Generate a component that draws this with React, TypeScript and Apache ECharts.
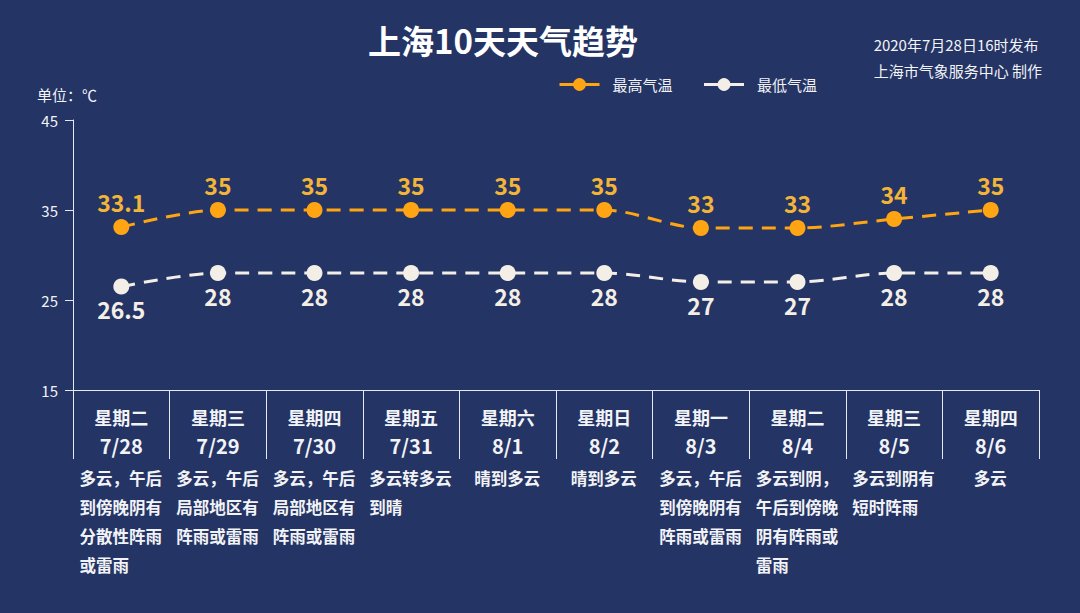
import React, { useEffect, useRef } from 'react';
import * as echarts from 'echarts';

const FONT = '"Noto Sans CJK SC", "Noto Sans", sans-serif';

const TH = {
  BG_COLOR: '#243464',
  FG_COLOR: '#f2f3f7',
  AXIS_COLOR: '#e3e8f2',
  HIGH_COLOR: '#ffa514',
  HIGH_LABEL: '#f3b437',
  LOW_COLOR: '#f4efe6',
};

const dates = ['7/28', '7/29', '7/30', '7/31', '8/1', '8/2', '8/3', '8/4', '8/5', '8/6'];
const weekdays = ['星期二', '星期三', '星期四', '星期五', '星期六', '星期日', '星期一', '星期二', '星期三', '星期四'];
const weather = [
  '多云，午后\n到傍晚阴有\n分散性阵雨\n或雷雨',
  '多云，午后\n局部地区有\n阵雨或雷雨',
  '多云，午后\n局部地区有\n阵雨或雷雨',
  '多云转多云\n到晴',
  '晴到多云',
  '晴到多云',
  '多云，午后\n到傍晚阴有\n阵雨或雷雨',
  '多云到阴，\n午后到傍晚\n阴有阵雨或\n雷雨',
  '多云到阴有\n短时阵雨',
  '多云',
];
const highTemps = [33.1, 35, 35, 35, 35, 35, 33, 33, 34, 35];
const lowTemps = [26.5, 28, 28, 28, 28, 28, 27, 27, 28, 28];
const yTicks = { min: 15, max: 45, interval: 10 };

const DESC_SIZE = 16.5;

// one rich style per line length, so lines stay left-aligned inside a centred block
const descRich: Record<string, any> = {};
for (let n = 1; n <= 6; n++) {
  descRich['d' + n] = {
    width: n * DESC_SIZE + 1,
    align: 'left',
    fontSize: DESC_SIZE,
    fontWeight: 'bold',
    lineHeight: 29,
    color: TH.FG_COLOR,
    fontFamily: FONT,
  };
}

const App = (): JSX.Element => {
  const divEL = useRef(null);

  const option: any = {
    animation: false,
    backgroundColor: TH.BG_COLOR,
    textStyle: { fontFamily: FONT },
    title: [
      {
        text: '上海10天天气趋势',
        left: 363,
        top: 18,
        textStyle: {
          color: '#ffffff',
          fontSize: 33,
          fontWeight: 'bold',
          fontFamily: FONT,
        },
      },
      {
        text: '2020年7月28日16时发布\n上海市气象服务中心 制作',
        right: 33,
        top: 26,
        textStyle: {
          color: TH.FG_COLOR,
          fontSize: 15,
          fontWeight: 'normal',
          lineHeight: 26,
          fontFamily: FONT,
        },
      },
    ],
    legend: {
      left: 553,
      top: 72,
      itemWidth: 40,
      itemHeight: 16,
      itemGap: 30,
      data: ['最高气温', '最低气温'],
      lineStyle: { type: 'solid', width: 3 },
      textStyle: {
        color: TH.FG_COLOR,
        fontSize: 15,
        fontFamily: FONT,
        padding: [0, 0, 0, 8],
      },
    },
    grid: {
      left: 73,
      right: 41,
      top: 120,
      bottom: 223,
    },
    xAxis: [
      {
        type: 'category',
        data: dates,
        boundaryGap: true,
        axisLine: { lineStyle: { color: TH.AXIS_COLOR, width: 1 } },
        axisTick: {
          show: true,
          length: 69,
          lineStyle: { color: TH.AXIS_COLOR, width: 1 },
        },
        axisLabel: {
          interval: 0,
          margin: 13,
          formatter: (value: string, idx: number) => `{w|${weekdays[idx]}}\n{d|${value}}`,
          rich: {
            w: {
              fontSize: 18,
              fontWeight: 'bold',
              lineHeight: 28,
              color: TH.FG_COLOR,
              fontFamily: FONT,
            },
            d: {
              fontSize: 20,
              fontWeight: 'bold',
              lineHeight: 28,
              color: TH.FG_COLOR,
              fontFamily: FONT,
            },
          },
        },
        splitLine: { show: false },
      },
      {
        type: 'category',
        data: dates,
        position: 'bottom',
        boundaryGap: true,
        axisLine: { show: false },
        axisTick: { show: false },
        axisLabel: {
          interval: 0,
          margin: 73,
          formatter: (value: string, idx: number) => {
            const lines = weather[idx].split('\n');
            const n = Math.max(...lines.map((l) => l.length));
            return lines.map((l) => `{d${n}|${l}}`).join('\n');
          },
          rich: descRich,
        },
        splitLine: { show: false },
      },
    ],
    yAxis: {
      type: 'value',
      min: yTicks.min,
      max: yTicks.max,
      interval: yTicks.interval,
      name: '单位：℃',
      nameLocation: 'end',
      nameGap: 18,
      nameTextStyle: {
        color: TH.FG_COLOR,
        fontSize: 15,
        fontFamily: FONT,
        align: 'center',
        padding: [0, 12, 0, 0],
      },
      axisLine: { show: true, lineStyle: { color: TH.AXIS_COLOR, width: 1 } },
      axisTick: { show: true, length: 8, lineStyle: { color: TH.AXIS_COLOR } },
      axisLabel: {
        color: TH.FG_COLOR,
        fontSize: 15,
        margin: 15,
        fontFamily: FONT,
      },
      splitLine: { show: false },
    },
    series: [
      {
        name: '最高气温',
        type: 'line',
        data: highTemps,
        smooth: 0.3,
        symbol: 'circle',
        symbolSize: 16,
        itemStyle: { color: TH.HIGH_COLOR },
        lineStyle: { color: TH.HIGH_COLOR, width: 3, type: [14, 9] },
        label: {
          show: true,
          position: 'top',
          distance: 6,
          color: TH.HIGH_LABEL,
          fontSize: 23,
          fontWeight: 'bold',
          fontFamily: FONT,
        },
      },
      {
        name: '最低气温',
        type: 'line',
        data: lowTemps,
        smooth: 0.3,
        symbol: 'circle',
        symbolSize: 16,
        itemStyle: { color: TH.LOW_COLOR },
        lineStyle: { color: TH.LOW_COLOR, width: 3, type: [14, 9] },
        label: {
          show: true,
          position: 'bottom',
          distance: 3,
          color: TH.LOW_COLOR,
          fontSize: 23,
          fontWeight: 'bold',
          fontFamily: FONT,
        },
      },
    ],
  };

  useEffect(() => {
    const chartDOM = divEL.current;
    const instance = echarts.init(chartDOM as any, undefined, { renderer: 'svg' });
    instance.setOption(option);

    return () => {
      instance.dispose();
    };
  }, []);

  return (
    <div
      ref={divEL}
      style={{ position: 'fixed', left: 0, top: 0, width: 1080, height: 613 }}
    ></div>
  );
};

export default App;
